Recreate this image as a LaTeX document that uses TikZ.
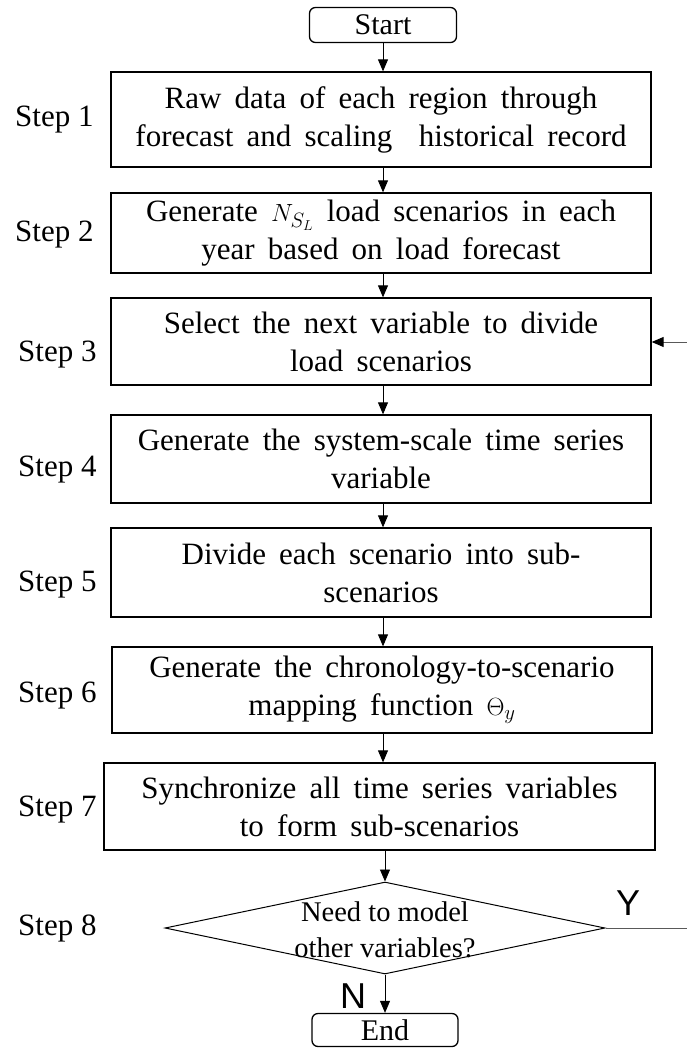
\documentclass[tikz,border=0pt]{standalone}
\usepackage{fontspec}
\setmainfont{Liberation Serif}[WordSpace=1.7]
\newfontfamily\plainserif{Liberation Serif}
\newfontfamily\arialfont{Liberation Sans}
\usetikzlibrary{shapes.geometric,arrows.meta}
\begin{document}
\begin{tikzpicture}[x=1pt,y=-1pt,
 box/.style={draw,line width=1.3pt,minimum width=540pt,inner sep=0pt,align=center,font=\fontsize{31}{38}\selectfont},
 term/.style={draw,line width=1.3pt,rounded corners=6pt,minimum width=147pt,minimum height=35pt,inner sep=0pt,font=\plainserif\fontsize{30}{36}\selectfont},
 lbl/.style={anchor=west,font=\plainserif\fontsize{31}{36}\selectfont,inner sep=0pt},
 arr/.style={line width=0.9pt,-{Triangle[length=12pt,width=10pt]}},
 gline/.style={line width=1pt,draw=black!65},
 decision/.style={draw,shape=diamond,line width=1pt,minimum width=440pt,minimum height=92pt,inner sep=0pt},
 dtext/.style={align=center,inner sep=0pt,font=\plainserif\fontsize{28.5}{36}\selectfont},
 yn/.style={font=\arialfont\fontsize{36}{36}\selectfont,inner sep=0pt}]
\useasboundingbox (0,0) rectangle (687,1051);

\node[term] (start) at (383,25) {Start};
\node[box,minimum height=95pt] (b1) at (381,119.5) {Raw data of each region through\\forecast and scaling\ \ historical record};
\node[box,minimum height=80pt] (b2) at (381,233) {Generate $N_{S_L}$ load scenarios in each\\year based on load forecast};
\node[box,minimum height=87pt] (b3) at (381,341.5) {Select the next variable to divide\\load scenarios};
\node[box,minimum height=88pt] (b4) at (381,459) {Generate the system-scale time series\\variable};
\node[box,minimum height=89pt] (b5) at (381,572.5) {Divide each scenario into sub-\\scenarios};
\node[box,minimum height=86pt] (b6) at (382,690) {Generate the chronology-to-scenario\\mapping function $\Theta_{y}$};
\node[box,minimum height=87pt,minimum width=551pt] (b7) at (379.5,806.5) {Synchronize all time series variables\\to form sub-scenarios};
\node[decision] (d) at (385,928) {};
\node[dtext] (dt) at (385,930) {Need to model\\other variables?};
\node[term,minimum width=146pt,minimum height=33pt] (end) at (385,1030) {End};

\node[lbl] (s1) at (15,120) {Step 1};
\node[lbl] (s2) at (15,235) {Step 2};
\node[lbl] (s3) at (18,355) {Step 3};
\node[lbl] (s4) at (18,470) {Step 4};
\node[lbl] (s5) at (18,585) {Step 5};
\node[lbl] (s6) at (18,696) {Step 6};
\node[lbl] (s7) at (18,810) {Step 7};
\node[lbl] (s8) at (18,928) {Step 8};

\draw[arr] (start.south) -- (start.south |- b1.north);
\draw[arr] (b1.south -| start.south) -- (start.south |- b2.north);
\draw[arr] (b2.south -| start.south) -- (start.south |- b3.north);
\draw[arr] (b3.south -| start.south) -- (start.south |- b4.north);
\draw[arr] (b4.south -| start.south) -- (start.south |- b5.north);
\draw[arr] (b5.south -| start.south) -- (start.south |- b6.north);
\draw[arr] (b6.south -| start.south) -- (start.south |- b7.north);
\draw[arr] (b7.south -| d.north) -- (d.north);
\draw[arr] (d.south) -- (end.north);

\coordinate (yend) at (687,928);
\coordinate (loopin) at (687,342);
\draw[gline] (d.east) -- (yend);
\draw[gline,-{Triangle[length=12pt,width=10pt,color=black]}] (loopin) -- (loopin -| b3.east);
\node[yn] (ylab) at (628,903) {Y};
\node[yn] (nlab) at (353,996) {N};
\end{tikzpicture}
\end{document}
